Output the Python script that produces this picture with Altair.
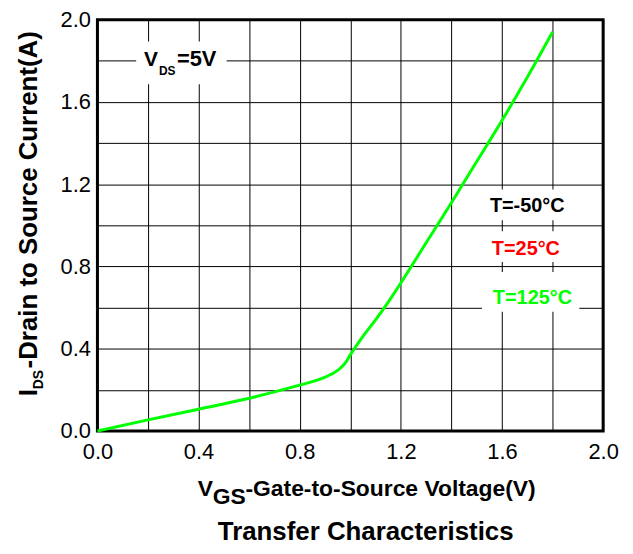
import altair as alt
import pandas as pd

# ---- curve data ----
vgs = [0.0, 0.2, 0.4, 0.6, 0.7, 0.8, 0.85, 0.9, 0.95, 0.98, 1.0, 1.05, 1.1,
       1.15, 1.2, 1.3, 1.4, 1.5, 1.6, 1.7, 1.8]
ids = [0.0, 0.054, 0.106, 0.159, 0.19, 0.223, 0.24, 0.262, 0.295, 0.33, 0.37, 0.46, 0.54,
       0.627, 0.72, 0.915, 1.11, 1.31, 1.51, 1.72, 1.94]

grid_x = [0.0, 0.2, 0.4, 0.6, 0.8, 1.0, 1.2, 1.4, 1.6, 1.8, 2.0]
grid_y = [0.0, 0.2, 0.4, 0.6, 0.8, 1.0, 1.2, 1.4, 1.6, 1.8, 2.0]

# ---- annotation texts (pixel placement in plot coordinates) ----
txt = ["V", "DS", "=5V",
       "T=-50°C", "T=25°C", "T=125°C",
       "V", "GS", "-Gate-to-Source Voltage(V)",
       "I", "DS", "-Drain to Source Current(A)",
       "Transfer Characteristics"]
txt_x = [47, 62, 80, 395, 397, 398, 101, 116, 149, -61, -55, -61, 270]
txt_y = [47, 56, 47, 194, 237, 286, 479, 487, 479, 379, 372, 351, 524]
txt_size = [21, 12, 22, 20, 20, 20, 23, 23, 23, 26, 14, 26, 26]
txt_color = ["black", "black", "black", "black", "#FF0000", "#00FF00",
             "black", "black", "black", "black", "black", "black", "black"]
txt_angle = [0, 0, 0, 0, 0, 0, 0, 0, 0, 270, 270, 270, 0]
txt_align = ["left"] * 12 + ["center"]

# white boxes behind labels (plot pixel coords)
box_x1 = [39, 390, 390, 387]
box_x2 = [130, 477, 477, 485]
box_y1 = [22, 171, 213, 254]
box_y2 = [65, 202, 244, 294]

df = pd.DataFrame({"vgs": vgs, "ids": ids})
one = pd.DataFrame({"k": [0]})

lab_expr = "(round(datum.value*10) % 4 == 0) ? format(datum.value, '.1f') : ''"

axis_common = dict(
    grid=True, ticks=False, domain=False, title=None,
    labelFont="Liberation Sans", labelFontSize=22, labelColor="black",
    gridColor="black", gridWidth=1, gridOpacity=1,
    labelOverlap=False, labelFlush=False, labelExpr=lab_expr,
)

line = alt.Chart(df).mark_line(color="#00FF00", strokeWidth=3, interpolate="monotone").encode(
    x=alt.X("vgs:Q", scale=alt.Scale(domain=[0, 2], nice=False, zero=False),
            axis=alt.Axis(values=grid_x, labelPadding=11, labelAngle=0, **axis_common)),
    y=alt.Y("ids:Q", scale=alt.Scale(domain=[0, 2], nice=False, zero=False),
            axis=alt.Axis(values=grid_y, labelPadding=7, **axis_common)),
)

layers = []
for i in range(len(box_x1)):
    layers.append(
        alt.Chart(one).mark_rect(fill="white").encode(
            x=alt.value(box_x1[i]), x2=alt.value(box_x2[i]),
            y=alt.value(box_y1[i]), y2=alt.value(box_y2[i]),
        )
    )
layers.append(line)
for i in range(len(txt)):
    layers.append(
        alt.Chart(one).mark_text(
            font="Liberation Sans", fontWeight="bold", align=txt_align[i],
            baseline="alphabetic", fontSize=txt_size[i], angle=txt_angle[i],
            color=txt_color[i],
        ).encode(x=alt.value(txt_x[i]), y=alt.value(txt_y[i]), text=alt.value(txt[i]))
    )

chart = alt.layer(*layers).properties(
    width=509, height=414,
    autosize=alt.AutoSizeParams(type="none"),
    padding={"left": 90, "top": 10, "right": 22, "bottom": 114},
    background="white",
).configure_view(stroke="black", strokeWidth=3)

chart.save("out.html", embed_options={"renderer": "svg", "actions": False})
